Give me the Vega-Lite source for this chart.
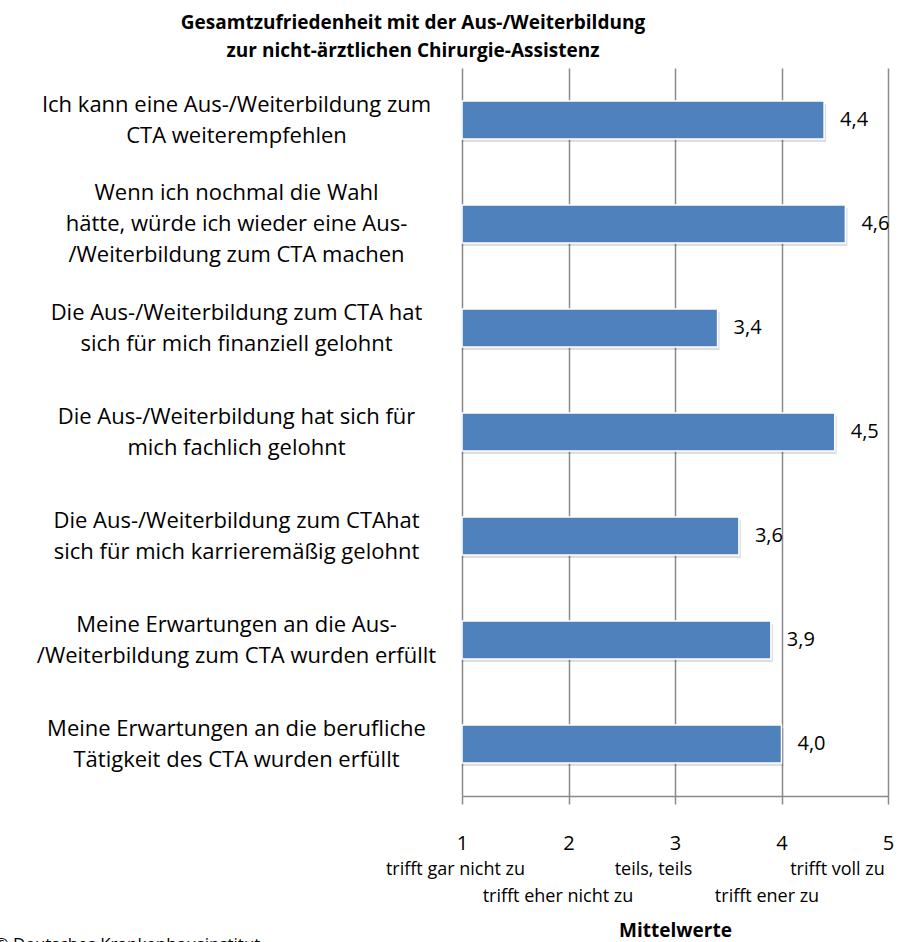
{
  "$schema": "https://vega.github.io/schema/vega-lite/v6.json",
  "autosize": {"type": "none"},
  "width": 426,
  "height": 728,
  "padding": {"left": 462, "top": 68, "right": 11, "bottom": 146},
  "background": "white",
  "config": {
    "view": {"stroke": null},
    "font": "Open Sans",
    "locale": {"number": {"decimal": ",", "thousands": ".", "grouping": [3], "currency": ["", " €"]}}
  },
  "title": {
    "text": ["Gesamtzufriedenheit mit der Aus-/Weiterbildung", "zur nicht-ärztlichen Chirurgie-Assistenz"],
    "font": "Open Sans",
    "fontSize": 19,
    "fontWeight": "bold",
    "color": "black",
    "anchor": "middle",
    "frame": "group",
    "dx": -262,
    "offset": 7,
    "lineHeight": 28
  },
  "data": {
    "values": [
      {"aussage": "Ich kann eine Aus-/Weiterbildung zum\nCTA weiterempfehlen", "mittelwert": 4.4},
      {"aussage": "Wenn ich nochmal die Wahl\nhätte, würde ich wieder eine Aus-\n/Weiterbildung zum CTA machen", "mittelwert": 4.6},
      {"aussage": "Die Aus-/Weiterbildung zum CTA hat\nsich für mich finanziell gelohnt", "mittelwert": 3.4},
      {"aussage": "Die Aus-/Weiterbildung hat sich für\nmich fachlich gelohnt", "mittelwert": 4.5},
      {"aussage": "Die Aus-/Weiterbildung zum CTAhat\nsich für mich karrieremäßig gelohnt", "mittelwert": 3.6},
      {"aussage": "Meine Erwartungen an die Aus-\n/Weiterbildung zum CTA wurden erfüllt", "mittelwert": 3.9},
      {"aussage": "Meine Erwartungen an die berufliche\nTätigkeit des CTA wurden erfüllt", "mittelwert": 4.0}
    ]
  },
  "encoding": {
    "y": {
      "field": "aussage",
      "type": "nominal",
      "sort": null,
      "scale": {"paddingInner": 0.63, "paddingOuter": 0.315},
      "axis": {
        "domain": false,
        "ticks": false,
        "tickSize": 0,
        "grid": false,
        "labelExpr": "split(datum.label, '\\n')",
        "labelAlign": "center",
        "labelBaseline": "middle",
        "labelOffset": {"expr": "-(length(split(datum.label, '\\n')) - 1) * 15.5"},
        "labelPadding": 226,
        "labelLimit": 0,
        "labelFont": "Open Sans",
        "labelFontSize": 22,
        "labelLineHeight": 31,
        "labelColor": "black",
        "title": "© Deutsches Krankenhausinstitut",
        "titleAngle": 0,
        "titleAlign": "left",
        "titleBaseline": "alphabetic",
        "titleX": -468,
        "titleY": 881,
        "titleFont": "Open Sans",
        "titleFontSize": 17,
        "titleFontWeight": "normal",
        "titleColor": "black"
      }
    }
  },
  "layer": [
    {
      "mark": {"type": "bar", "color": "#000000", "opacity": 0.13, "size": 38, "yOffset": 3, "xOffset": 2},
      "encoding": {
        "x": {"field": "mittelwert", "type": "quantitative", "axis": null, "scale": {"domain": [1, 5], "zero": false, "nice": false}},
        "x2": {"datum": 1}
      }
    },
    {
      "mark": {"type": "bar", "color": "#4F81BD", "stroke": "white", "strokeWidth": 1.5, "size": 38},
      "encoding": {
        "x": {
          "field": "mittelwert",
          "type": "quantitative",
          "scale": {"domain": [1, 5], "zero": false, "nice": false},
          "axis": {
            "values": [1, 2, 3, 4, 5],
            "format": "d",
            "orient": "bottom",
            "title": null,
            "grid": true,
            "gridColor": "#8a8a8a",
            "gridWidth": 1.5,
            "domain": true,
            "domainColor": "#8a8a8a",
            "domainWidth": 1.5,
            "ticks": true,
            "tickColor": "#8a8a8a",
            "tickWidth": 1.5,
            "tickSize": 8,
            "labelFlush": false,
            "labelOverlap": false,
            "labelPadding": 29,
            "labelFont": "Open Sans",
            "labelFontSize": 20,
            "labelColor": "black",
            "labelBaseline": "top"
          }
        },
        "x2": {"datum": 1}
      }
    },
    {
      "mark": {"type": "text", "align": "left", "baseline": "middle", "dx": 16, "font": "Open Sans", "fontSize": 20, "color": "black"},
      "encoding": {
        "x": {
          "field": "mittelwert",
          "type": "quantitative",
          "scale": {"domain": [1, 5], "zero": false, "nice": false},
          "axis": {
            "orient": "bottom",
            "values": [1, 2, 3, 4, 5],
            "labelExpr": "datum.value == 1 ? ['trifft gar nicht zu'] : datum.value == 2 ? ['', 'trifft eher nicht zu'] : datum.value == 3 ? ['teils, teils'] : datum.value == 4 ? ['', 'trifft ener zu'] : ['trifft voll zu']",
            "labelOffset": {"expr": "datum.value == 1 ? -7 : datum.value == 2 ? -11 : datum.value == 3 ? -22 : datum.value == 4 ? -15 : -51"},
            "grid": false,
            "domain": false,
            "ticks": false,
            "tickSize": 0,
            "labelFlush": false,
            "labelOverlap": false,
            "labelBound": false,
            "labelPadding": 64,
            "labelFont": "Open Sans",
            "labelFontSize": 18,
            "labelLineHeight": 27,
            "labelBaseline": "top",
            "labelColor": "black",
            "title": "Mittelwerte",
            "titleFont": "Open Sans",
            "titleFontSize": 19,
            "titleFontWeight": "bold",
            "titleColor": "black",
            "titlePadding": 16
          }
        },
        "text": {"field": "mittelwert", "type": "quantitative", "format": ".1f"}
      }
    }
  ],
  "resolve": {"axis": {"x": "independent"}}
}
